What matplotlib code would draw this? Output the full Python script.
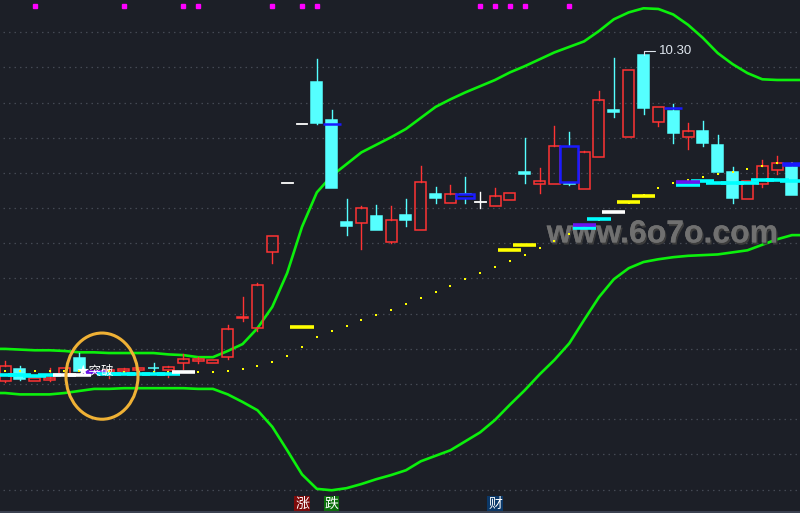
import numpy as np
import matplotlib.pyplot as plt
from matplotlib.patches import Rectangle, Ellipse
from matplotlib import patheffects

# daily candles (price units)
opens = [5.57, 5.75, 5.57, 5.59, 5.66, 5.91, 5.70, 5.71, 5.72, 5.74,
         5.77, 5.73, 5.83, 5.86, 5.83, 5.92, 6.49, 6.34, 7.44, 8.45,
         9.30, 9.91, 9.36, 7.88, 7.86, 7.97, 7.59, 7.98, 7.76, 8.28,
         8.15, 8.28, 8.17, 8.11, 8.20, 8.60, 8.43, 8.43, 8.46, 8.36,
         8.82, 9.50, 9.11, 10.30, 9.33, 9.49, 9.11, 9.20, 9.00, 8.60,
         8.21, 8.43, 8.63, 8.68]
highs = [5.86, 5.79, 5.62, 5.76, 5.76, 5.98, 5.73, 5.74, 5.76, 5.76,
         5.84, 5.79, 5.96, 5.92, 5.88, 6.39, 6.79, 7.00, 7.68, 8.45,
         9.30, 10.24, 9.50, 8.21, 8.11, 8.13, 8.11, 8.21, 8.69, 8.39,
         8.42, 8.53, 8.31, 8.37, 8.30, 9.10, 8.66, 9.27, 9.18, 8.91,
         9.78, 10.26, 10.08, 10.30, 9.55, 9.59, 9.31, 9.34, 9.14, 8.68,
         8.47, 8.78, 8.84, 8.74]
lows = [5.56, 5.59, 5.57, 5.57, 5.66, 5.72, 5.69, 5.62, 5.69, 5.68,
        5.72, 5.63, 5.75, 5.83, 5.83, 5.89, 6.44, 6.30, 7.28, 8.45,
        9.30, 9.30, 8.37, 7.69, 7.49, 7.76, 7.57, 7.82, 7.76, 8.15,
        8.15, 8.15, 8.08, 8.11, 8.20, 8.44, 8.30, 8.43, 8.42, 8.36,
        8.82, 9.40, 9.11, 9.44, 9.27, 9.02, 8.94, 8.98, 8.60, 8.15,
        8.21, 8.39, 8.58, 8.27]
closes = [5.79, 5.60, 5.62, 5.62, 5.76, 5.72, 5.72, 5.73, 5.75, 5.76,
          5.76, 5.78, 5.89, 5.89, 5.88, 6.33, 6.50, 6.97, 7.68, 8.45,
          9.30, 9.31, 8.37, 7.82, 8.08, 7.76, 7.91, 7.91, 8.46, 8.23,
          8.28, 8.23, 8.17, 8.26, 8.30, 8.58, 8.47, 8.98, 8.43, 8.89,
          9.65, 9.48, 10.08, 9.53, 9.55, 9.17, 9.20, 9.02, 8.60, 8.23,
          8.47, 8.69, 8.74, 8.27]

# band lines
upper_band = [6.04, 6.03, 6.02, 6.02, 6.01, 5.99, 5.99, 5.98, 5.98, 5.98,
              5.98, 5.96, 5.95, 5.92, 5.92, 6.01, 6.11, 6.34, 6.65, 7.14,
              7.81, 8.31, 8.55, 8.72, 8.89, 9.00, 9.11, 9.23, 9.39, 9.55,
              9.66, 9.76, 9.85, 9.94, 10.05, 10.14, 10.24, 10.34, 10.42, 10.50,
              10.65, 10.82, 10.92, 10.98, 10.97, 10.89, 10.74, 10.55, 10.33, 10.17,
              10.04, 9.95, 9.94, 9.94]
lower_band = [5.40, 5.38, 5.38, 5.38, 5.40, 5.43, 5.46, 5.46, 5.47, 5.47,
              5.47, 5.47, 5.47, 5.46, 5.46, 5.38, 5.27, 5.15, 4.91, 4.57,
              4.22, 4.01, 3.99, 4.02, 4.08, 4.15, 4.21, 4.28, 4.41, 4.49,
              4.57, 4.70, 4.83, 5.01, 5.23, 5.44, 5.67, 5.88, 6.12, 6.46,
              6.79, 7.05, 7.21, 7.30, 7.34, 7.37, 7.39, 7.40, 7.41, 7.44,
              7.47, 7.55, 7.63, 7.69]

# yellow dotted trail
trail = [5.72, 5.72, 5.72, 5.72, 5.72, 5.72, 5.72, 5.72, 5.71, 5.71,
         5.70, 5.70, 5.70, 5.70, 5.70, 5.72, 5.75, 5.79, 5.85, 5.94,
         6.07, 6.21, 6.30, 6.37, 6.46, 6.53, 6.60, 6.69, 6.78, 6.86,
         6.95, 7.05, 7.14, 7.23, 7.31, 7.40, 7.50, 7.60, 7.70, 7.81,
         7.91, 8.02, 8.15, 8.27, 8.37, 8.44, 8.49, 8.53, 8.57, 8.60,
         8.65, 8.69, 8.73, 8.73]

# short cost bars: candle index, price, kind
bar_idx = [0, 1, 2, 3, 4, 5, 6, 7, 8, 9, 10, 11, 12, 20, 34, 35, 39, 39,
           40, 41, 42, 43, 47, 48, 49, 50, 51, 52, 53, 46, 46]
bar_price = [5.66, 5.66, 5.65, 5.66, 5.66, 5.66, 5.70, 5.67, 5.67, 5.67, 5.68,
             5.68, 5.70, 6.36, 7.48, 7.55, 7.79, 7.83, 7.92, 8.02, 8.17, 8.26,
             8.47, 8.45, 8.44, 8.44, 8.49, 8.49, 8.47, 8.42, 8.46]
bar_kind = ["c", "c", "c", "c", "w", "w", "p", "c", "c", "c", "c",
            "c", "w", "y", "y", "y", "c", "p", "c", "w", "y", "y",
            "c", "c", "c", "c", "c", "c", "c", "c", "p"]

# blue overlay boxes: candle index, low, high
blue_idx = [22, 31, 38, 45, 53]
blue_lo = [9.30, 8.23, 8.46, 9.53, 8.70]
blue_hi = [9.30, 8.28, 8.98, 9.53, 8.74]

signal_idx = [2, 8, 12, 13, 18, 20, 21, 32, 33, 34, 35, 38]
tag_idx = [20, 22, 33]
tag_text = ["涨", "跌", "财"]
breakout_idx = 6

BG = "#1c1f27"
RED = "#ff3333"
CYAN = "#55ffff"
GREEN = "#0cf00c"
BAR_COLORS = {"c": "#00ffff", "w": "#ffffff", "y": "#ffff00", "p": "#6a14f0"}
CJK = ["Noto Sans CJK SC", "DejaVu Sans"]
X_LEFT, X_RIGHT = -0.34, 53.54

fig = plt.figure(figsize=(8, 5.13), dpi=100, facecolor=BG)
ax = fig.add_axes([0, 0, 1, 1])
ax.set_axis_off()
ax.set_xlim(X_LEFT, X_RIGHT)
ax.set_ylim(3.66, 11.10)

# dotted price grid
for level in 10.634 - 0.5104 * np.arange(14):
    ax.plot([-0.15, 53.6], [level, level], color="#444954", lw=0.9,
            ls=(0, (1.2, 3.2)), zorder=1)

x = np.arange(len(opens))
# bands run on to both edges of the window
band_x = np.r_[X_LEFT, x, X_RIGHT]
for band in (upper_band, lower_band):
    ax.plot(band_x, np.r_[band[0], band, band[-1]], color=GREEN, lw=1.9, zorder=2)

for i in x:
    o, h, l, c = opens[i], highs[i], lows[i], closes[i]
    if c > o:
        color = RED
    elif c < o:
        color = CYAN
    else:
        color = "#ffffff"
    top, bottom = max(o, c), min(o, c)
    ax.plot([i, i], [top, h], color=color, lw=1.0, zorder=4)
    ax.plot([i, i], [l, bottom], color=color, lw=1.0, zorder=4)
    if c == o:
        ax.plot([i - 0.36, i + 0.36], [o, o], color=color, lw=1.3, zorder=4)
    else:
        face = "none" if c > o else CYAN
        ax.add_patch(Rectangle((i - 0.37, bottom), 0.74, top - bottom,
                               facecolor=face, edgecolor=color, lw=1.1, zorder=5))

ax.scatter(x, trail, s=2.2, marker="s", color="#ffff00", linewidths=0, zorder=6)

for i, lo, hi in zip(blue_idx, blue_lo, blue_hi):
    ax.add_patch(Rectangle((i - 0.6, lo), 1.2, hi - lo, facecolor=BG,
                           edgecolor="#1a1aff", lw=1.8, zorder=6.5))

for i, p, k in zip(bar_idx, bar_price, bar_kind):
    ax.plot([i - 0.78, i + 0.78], [p, p], color=BAR_COLORS[k], lw=2.6,
            solid_capstyle="butt", zorder=7)

# signal squares along the top edge
ax.plot(signal_idx, [0.988] * len(signal_idx), "s", color="#ff00ff", ms=2.8,
        transform=ax.get_xaxis_transform(), zorder=8)

# breakout marker
ax.text(breakout_idx + 0.1, trail[breakout_idx], "★突破", color="white",
        fontsize=9, family=CJK, ha="center", va="center", zorder=9)
mid = (upper_band[breakout_idx] + lower_band[breakout_idx]) / 2
ax.add_patch(Ellipse((breakout_idx + 0.53, mid - 0.08), 4.85, 1.25, fill=False,
                     edgecolor="#efb135", lw=2.2, zorder=10))

# highest price label
hi_idx = int(np.argmax(highs))
ax.annotate(f"{highs[hi_idx]:.2f}", xy=(hi_idx, highs[hi_idx]), xytext=(11, 3),
            textcoords="offset points", color="#dfe6ee", fontsize=9.5,
            family="Liberation Sans", ha="left", va="center", zorder=9,
            arrowprops=dict(arrowstyle="-", color="#dfe6ee", lw=0.8, shrinkA=1,
                            shrinkB=0, connectionstyle="angle,angleA=0,angleB=90,rad=0"))

# bottom tags
tag_bg = ["#7d0a0a", "#0b6e0b", "#0b3868"]
for i, t, bgc in zip(tag_idx, tag_text, tag_bg):
    ax.text(i, 0.018, t, transform=ax.get_xaxis_transform(), color="white",
            fontsize=10, family=CJK, ha="center", va="center", zorder=9,
            bbox=dict(boxstyle="square,pad=0.05", facecolor=bgc, edgecolor="none"))

# watermark
ax.text(0.828, 0.543, "www.6o7o.com", transform=ax.transAxes, color="#707070",
        fontsize=23, fontweight="bold", family="Liberation Sans", ha="center",
        va="center", zorder=3,
        path_effects=[patheffects.withSimplePatchShadow(offset=(1, -1.5),
                                                        shadow_rgbFace="#3c3c3c",
                                                        alpha=1.0),
                      patheffects.Normal()])

ax.plot([0, 1], [0.002, 0.002], transform=ax.transAxes, color="#3b4150",
        lw=1.5, clip_on=False, zorder=11)

fig.savefig("out.png", dpi=100, facecolor=BG)
